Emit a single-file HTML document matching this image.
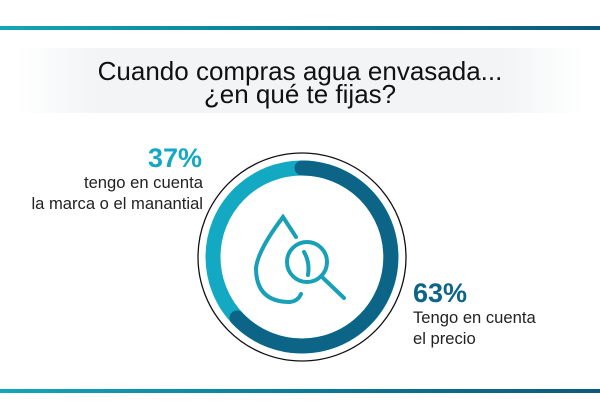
<!DOCTYPE html>
<html><head><meta charset="utf-8"><style>
body{margin:0;width:600px;height:419px;background:#fff;position:relative;overflow:hidden;font-family:"Liberation Sans",sans-serif;}
.line{position:absolute;left:0;width:600px;height:4px;background:linear-gradient(90deg,#12a6bb,#0a7c98 50%,#0b5a7c);}
.title{position:absolute;left:15px;top:48px;width:570px;height:65px;background:linear-gradient(90deg,#fff,#f2f4f5 15%,#f2f4f5 85%,#fff);text-align:center;font-size:26px;line-height:23px;color:#111;padding-top:12px;box-sizing:border-box;}
.t{position:absolute;color:#222;font-size:16.6px;line-height:20.5px;}
.p{position:absolute;font-weight:bold;font-size:27px;line-height:27px;}
</style></head><body>
<div class="line" style="top:26px"></div>
<div class="title">Cuando compras agua envasada...<br>¿en qué te fijas?</div>
<div class="p" style="right:398px;top:145px;color:#13a9c2">37%</div>
<div class="t" style="right:397px;top:173px;text-align:right">tengo en cuenta<br>la marca o el manantial</div>
<div class="p" style="left:413px;top:280px;color:#0c6587">63%</div>
<div class="t" style="left:413px;top:308px">Tengo en cuenta<br>el precio</div>
<svg style="position:absolute;left:0;top:0" width="600" height="419">
<circle cx="302" cy="257" r="104" fill="none" stroke="#111" stroke-width="1.3"/>
<circle cx="302" cy="257" r="89" fill="none" stroke="#13a9c2" stroke-width="15"/>
<path d="M302,168 A89,89 0 1,1 237,318" fill="none" stroke="#0c6587" stroke-width="15" stroke-linecap="round"/>
<g fill="none" stroke="#18a0b6" stroke-width="4" stroke-linecap="round">
<path d="M296,237 L283,217 Q258,250 256,268 Q256,302 290,302 Q298,301 301,294"/>
<circle cx="307" cy="262" r="20"/>
<path d="M321,276 L344,298"/>
<path d="M304,252 Q310,262 308,275"/>
</g>
</svg>
<div class="line" style="top:389px"></div>
</body></html>
